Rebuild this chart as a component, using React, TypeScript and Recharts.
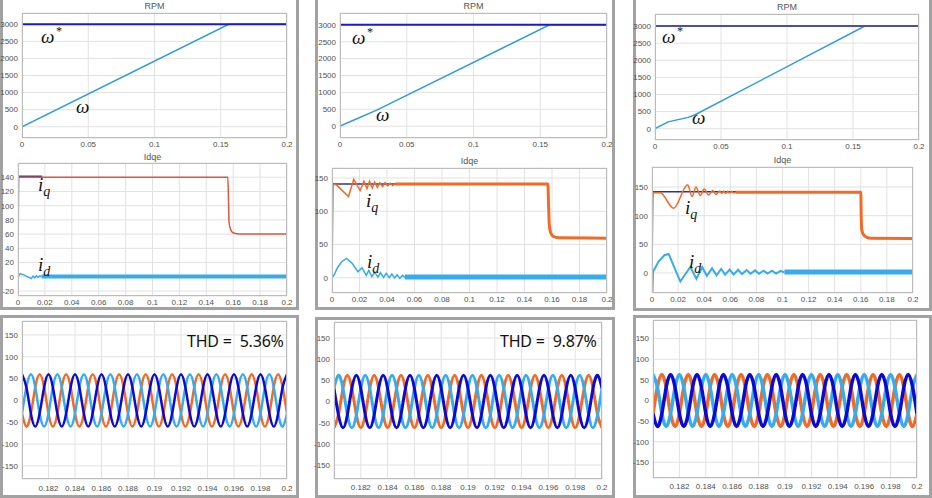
import React from 'react';
import { LineChart, Line, XAxis, YAxis, CartesianGrid } from 'recharts';

// ---------- speed (RPM) ----------
const rpmRefT = [0, 0.2];
const rpmRefV = [3000, 3000];
const rpm1T = [0, 0.156, 0.2];
const rpm1V = [0, 3000, 3000];
const rpm2T = [0, 0.01, 0.0275, 0.157, 0.2];
const rpm2V = [0, 175, 475, 3000, 3000];
const rpm3T = [0, 0.01, 0.025, 0.03, 0.159, 0.2];
const rpm3V = [0, 200, 330, 400, 3000, 3000];

// ---------- dq currents ----------
const iqRef1T = [0, 0.018];
const iqRef1V = [141, 141];
const iq1T = [0, 0.0006, 0.156, 0.1566, 0.1569, 0.158, 0.1598, 0.165, 0.2];
const iq1V = [0, 140, 140, 100, 77, 67, 62, 60, 60];
const id1T = [0, 0.0017, 0.005, 0.0099, 0.0112, 0.0125, 0.0138, 0.015, 0.0163, 0.0175];
const id1V = [0, 4.5, 2, -2.5, 1, -1.5, 1.5, -1, 1.5, 0];
const id1BandT = [0.0175, 0.2];
const id1BandV = [0.5, 0.5];

const iqRef2T = [0, 0.156];
const iqRef2V = [141, 141];
const iq2T = [0, 0.0008, 0.003, 0.012, 0.0158, 0.0205, 0.0232, 0.0254, 0.0273, 0.0293, 0.031, 0.033, 0.0348, 0.0368, 0.0386, 0.0405, 0.0423, 0.0442, 0.046];
const iq2V = [0, 140, 140, 122, 148, 131, 145, 134, 145, 135, 144, 136, 143, 137, 143, 138, 142, 138.5, 141];
const iq2BandT = [0.046, 0.157, 0.1575, 0.158, 0.159, 0.161, 0.165, 0.2];
const iq2BandV = [141, 141, 110, 80, 68, 62, 60, 59.5];
const id2T = [0, 0.0015, 0.004, 0.007, 0.0105, 0.0145, 0.0189, 0.0218, 0.0249, 0.0268, 0.029, 0.031, 0.0334, 0.0353, 0.0375, 0.0394, 0.0416, 0.0435, 0.0455, 0.0474, 0.0493, 0.0513, 0.053];
const id2V = [0, 4, 15, 24, 29, 22, 9, 15, 3.5, 11, 1.5, 8.5, 1, 7.5, 0.5, 6.5, 0, 5.5, -0.5, 4.5, -1, 3.5, 0.5];
const id2BandT = [0.053, 0.2];
const id2BandV = [1, 1];

const iqRef3T = [0, 0.16];
const iqRef3V = [142, 142];
const iq3T = [0, 0.001, 0.0064, 0.0166, 0.0273, 0.0307, 0.0337, 0.037, 0.04, 0.0434, 0.0465, 0.049, 0.052, 0.0535, 0.055, 0.0565, 0.058, 0.0595, 0.061, 0.0625, 0.064];
const iq3V = [0, 140.5, 140, 113, 154, 133.5, 150, 135, 146.5, 136, 144, 137, 143, 139, 143, 139, 142.5, 139.5, 142.5, 140, 141];
const iq3BandT = [0.064, 0.16, 0.1603, 0.1607, 0.162, 0.1645, 0.168, 0.2];
const iq3BandV = [141, 141, 100, 76, 67, 62, 60.5, 60];
const id3T = [0, 0.0003, 0.0008, 0.005, 0.0095, 0.0128, 0.0217, 0.0294, 0.034, 0.0385, 0.042, 0.046, 0.0495, 0.053, 0.056, 0.0595, 0.0625, 0.066, 0.069, 0.0725, 0.0755, 0.079, 0.082, 0.0855, 0.0885, 0.092, 0.095, 0.0985, 0.1015];
const id3V = [0, -35, 2, 20, 31, 33, -15, 10.5, -10, 10, -5, 8, -4, 7, -3, 6, -2.5, 5.5, -2, 5, -1.5, 4.5, -1.5, 4, -1, 4, -1, 3.5, 1];
const id3BandT = [0.1015, 0.2];
const id3BandV = [1.5, 1.5];

// ---------- phase currents, 0.18 .. 0.2 ----------
const phaseT = [
  0.18, 0.18033, 0.18067, 0.181, 0.18133, 0.18167,
  0.182, 0.18233, 0.18267, 0.183, 0.18333, 0.18367,
  0.184, 0.18433, 0.18467, 0.185, 0.18533, 0.18567,
  0.186, 0.18633, 0.18667, 0.187, 0.18733, 0.18767,
  0.188, 0.18833, 0.18867, 0.189, 0.18933, 0.18967,
  0.19, 0.19033, 0.19067, 0.191, 0.19133, 0.19167,
  0.192, 0.19233, 0.19267, 0.193, 0.19333, 0.19367,
  0.194, 0.19433, 0.19467, 0.195, 0.19533, 0.19567,
  0.196, 0.19633, 0.19667, 0.197, 0.19733, 0.19767,
  0.198, 0.19833, 0.19867, 0.199, 0.19933, 0.19967,
  0.2,
];

const ia1 = [
  60, 30, -30, -60, -30, 30, 60, 30, -30, -60, -30, 30,
  60, 30, -30, -60, -30, 30, 60, 30, -30, -60, -30, 30,
  60, 30, -30, -60, -30, 30, 60, 30, -30, -60, -30, 30,
  60, 30, -30, -60, -30, 30, 60, 30, -30, -60, -30, 30,
  60, 30, -30, -60, -30, 30, 60, 30, -30, -60, -30, 30,
  60,
];
const ib1 = [
  -30, 30, 60, 30, -30, -60, -30, 30, 60, 30, -30, -60,
  -30, 30, 60, 30, -30, -60, -30, 30, 60, 30, -30, -60,
  -30, 30, 60, 30, -30, -60, -30, 30, 60, 30, -30, -60,
  -30, 30, 60, 30, -30, -60, -30, 30, 60, 30, -30, -60,
  -30, 30, 60, 30, -30, -60, -30, 30, 60, 30, -30, -60,
  -30,
];
const ic1 = [
  -30, -60, -30, 30, 60, 30, -30, -60, -30, 30, 60, 30,
  -30, -60, -30, 30, 60, 30, -30, -60, -30, 30, 60, 30,
  -30, -60, -30, 30, 60, 30, -30, -60, -30, 30, 60, 30,
  -30, -60, -30, 30, 60, 30, -30, -60, -30, 30, 60, 30,
  -30, -60, -30, 30, 60, 30, -30, -60, -30, 30, 60, 30,
  -30,
];

const ia2 = [
  31, -31, -62, -31, 31, 62, 31, -31, -62, -31, 31, 62,
  31, -31, -62, -31, 31, 62, 31, -31, -62, -31, 31, 62,
  31, -31, -62, -31, 31, 62, 31, -31, -62, -31, 31, 62,
  31, -31, -62, -31, 31, 62, 31, -31, -62, -31, 31, 62,
  31, -31, -62, -31, 31, 62, 31, -31, -62, -31, 31, 62,
  31,
];
const ib2 = [
  31, 62, 31, -31, -62, -31, 31, 62, 31, -31, -62, -31,
  31, 62, 31, -31, -62, -31, 31, 62, 31, -31, -62, -31,
  31, 62, 31, -31, -62, -31, 31, 62, 31, -31, -62, -31,
  31, 62, 31, -31, -62, -31, 31, 62, 31, -31, -62, -31,
  31, 62, 31, -31, -62, -31, 31, 62, 31, -31, -62, -31,
  31,
];
const ic2 = [
  -62, -31, 31, 62, 31, -31, -62, -31, 31, 62, 31, -31,
  -62, -31, 31, 62, 31, -31, -62, -31, 31, 62, 31, -31,
  -62, -31, 31, 62, 31, -31, -62, -31, 31, 62, 31, -31,
  -62, -31, 31, 62, 31, -31, -62, -31, 31, 62, 31, -31,
  -62, -31, 31, 62, 31, -31, -62, -31, 31, 62, 31, -31,
  -62,
];

const ia3 = [
  -32, -63, -32, 32, 63, 32, -32, -63, -32, 32, 63, 32,
  -32, -63, -32, 32, 63, 32, -32, -63, -32, 32, 63, 32,
  -32, -63, -32, 32, 63, 32, -32, -63, -32, 32, 63, 32,
  -32, -63, -32, 32, 63, 32, -32, -63, -32, 32, 63, 32,
  -32, -63, -32, 32, 63, 32, -32, -63, -32, 32, 63, 32,
  -32,
];
const ib3 = [
  63, 32, -32, -63, -32, 32, 63, 32, -32, -63, -32, 32,
  63, 32, -32, -63, -32, 32, 63, 32, -32, -63, -32, 32,
  63, 32, -32, -63, -32, 32, 63, 32, -32, -63, -32, 32,
  63, 32, -32, -63, -32, 32, 63, 32, -32, -63, -32, 32,
  63, 32, -32, -63, -32, 32, 63, 32, -32, -63, -32, 32,
  63,
];
const ic3 = [
  -32, 32, 63, 32, -32, -63, -32, 32, 63, 32, -32, -63,
  -32, 32, 63, 32, -32, -63, -32, 32, 63, 32, -32, -63,
  -32, 32, 63, 32, -32, -63, -32, 32, 63, 32, -32, -63,
  -32, 32, 63, 32, -32, -63, -32, 32, 63, 32, -32, -63,
  -32, 32, 63, 32, -32, -63, -32, 32, 63, 32, -32, -63,
  -32,
];

// ---------- ticks ----------
const rpmXTicks = [0, 0.05, 0.1, 0.15, 0.2];
const rpmYTicks = [0, 500, 1000, 1500, 2000, 2500, 3000];
const idqXTicks = [0, 0.02, 0.04, 0.06, 0.08, 0.1, 0.12, 0.14, 0.16, 0.18, 0.2];
const idq1YTicks = [-20, 0, 20, 40, 60, 80, 100, 120, 140];
const idqYTicks = [0, 50, 100, 150];
const phaseXTicks = [0.182, 0.184, 0.186, 0.188, 0.19, 0.192, 0.194, 0.196, 0.198, 0.2];
const phaseYTicks = [-150, -100, -50, 0, 50, 100, 150];

const DARK = '#0a0ad2';
const ORANGE = '#f26a24';
const LIGHT = '#36acee';
const WREF = '#1a1ad6';
const WMEAS = '#2f9ce0';
const IQREF = '#303096';

type Curve = 'linear' | 'monotone' | 'natural';
interface Series {
  t: number[];
  v: number[];
  color: string;
  width: number;
  curve?: Curve;
}

interface PanelProps {
  x0: number;
  y0: number;
  x1: number;
  y1: number;
  xDomain: [number, number];
  yDomain: [number, number];
  xTicks: number[];
  yTicks: number[];
  series: Series[];
  title?: string;
  titleTop?: number;
  gap?: number;
}

const toRows = (t: number[], v: number[]) => t.map((x, i) => ({ t: x, v: v[i] }));

const tickStyle = { fontSize: 8, fill: '#505050', fontFamily: 'Liberation Sans, Arial, sans-serif' };

const Panel = ({ x0, y0, x1, y1, xDomain, yDomain, xTicks, yTicks, series, title, titleTop, gap = 3 }: PanelProps) => {
  const W = 40;
  const R = 12;
  const T = 2;
  const H = 18;
  return (
    <>
      {title && (
        <div
          style={{
            position: 'absolute',
            left: x0,
            width: x1 - x0,
            top: titleTop,
            textAlign: 'center',
            fontSize: 9,
            lineHeight: '10px',
            color: '#555',
            fontFamily: 'Liberation Sans, Arial, sans-serif',
          }}
        >
          {title}
        </div>
      )}
      <div style={{ position: 'absolute', left: x0 - W, top: y0 - T }}>
        <LineChart width={x1 - x0 + W + R} height={y1 - y0 + T + H} margin={{ top: T, right: R, bottom: 0, left: 0 }}>
          <CartesianGrid stroke="#e2e2e2" />
          <XAxis
            type="number"
            dataKey="t"
            domain={xDomain}
            ticks={xTicks}
            interval={0}
            allowDataOverflow
            height={H}
            axisLine={false}
            tickLine={false}
            tickSize={0}
            tickMargin={gap}
            tick={tickStyle}
          />
          <YAxis
            type="number"
            dataKey="v"
            domain={yDomain}
            ticks={yTicks}
            interval={0}
            allowDataOverflow
            width={W}
            axisLine={false}
            tickLine={false}
            tickSize={0}
            tickMargin={4}
            tick={tickStyle}
          />
          {series.map((s, i) => (
            <Line
              key={i}
              data={toRows(s.t, s.v)}
              dataKey="v"
              type={s.curve ?? 'linear'}
              stroke={s.color}
              strokeWidth={s.width}
              dot={false}
              activeDot={false}
              isAnimationActive={false}
            />
          ))}
        </LineChart>
        <div
          style={{
            position: 'absolute',
            left: W,
            top: T,
            width: x1 - x0,
            height: y1 - y0,
            border: '1px solid #bcbcbc',
            boxSizing: 'border-box',
            pointerEvents: 'none',
          }}
        />
      </div>
    </>
  );
};

const Frame = ({ left, top, right, bottom }: { left: number; top: number; right: number; bottom: number }) => (
  <div
    style={{
      position: 'absolute',
      left,
      top,
      width: right - left,
      height: bottom - top,
      border: '3px solid #a2a2a2',
      boxSizing: 'border-box',
      background: '#fff',
    }}
  />
);

const mathFont = { fontFamily: 'Liberation Serif, serif', fontStyle: 'italic' as const, fontSize: 19, lineHeight: '19px', color: '#111' };

const Omega = ({ x, y, star }: { x: number; y: number; star?: boolean }) => (
  <div style={{ position: 'absolute', left: x, top: y, ...mathFont }}>
    ω{star && <span style={{ fontSize: 12, position: 'relative', top: -8, marginLeft: 1 }}>*</span>}
  </div>
);

const Sub = ({ x, y, s }: { x: number; y: number; s: string }) => (
  <div style={{ position: 'absolute', left: x, top: y, ...mathFont }}>
    i<span style={{ fontSize: 14, position: 'relative', top: 5 }}>{s}</span>
  </div>
);

const Thd = ({ x, text }: { x: number; text: string }) => (
  <div
    style={{
      position: 'absolute',
      left: x,
      top: 333,
      fontSize: 16,
      lineHeight: '17px',
      letterSpacing: -0.2,
      whiteSpace: 'pre',
      fontFamily: 'Noto Sans, Open Sans, sans-serif',
      color: '#111',
    }}
  >
    {text}
  </div>
);

const phaseSeries = (a: number[], b: number[], c: number[], w: number): Series[] => [
  { t: phaseT, v: c, color: ORANGE, width: w, curve: 'natural' },
  { t: phaseT, v: b, color: LIGHT, width: w, curve: 'natural' },
  { t: phaseT, v: a, color: DARK, width: w, curve: 'natural' },
];

export default function App() {
  return (
    <div style={{ position: 'absolute', left: 0, top: 0, width: 932, height: 498, background: '#fff', overflow: 'hidden' }}>
      <Frame left={0} top={-3} right={299} bottom={310} />
      <Frame left={0} top={315} right={299} bottom={498} />
      <Frame left={315} top={-3} right={615} bottom={310} />
      <Frame left={315} top={317} right={615} bottom={498} />
      <Frame left={633} top={-3} right={932} bottom={311} />
      <Frame left={633} top={315} right={932} bottom={498} />

      {/* column 1 */}
      <Panel
        x0={22} y0={13} x1={287} y1={138}
        xDomain={[0, 0.2]} yDomain={[-330, 3330]} xTicks={rpmXTicks} yTicks={rpmYTicks}
        title="RPM" titleTop={1}
        series={[
          { t: rpm1T, v: rpm1V, color: WMEAS, width: 1.5 },
          { t: rpmRefT, v: rpmRefV, color: WREF, width: 2 },
        ]}
      />
      <Panel
        x0={18} y0={163} x1={287} y1={296}
        xDomain={[0, 0.2]} yDomain={[-27, 160]} xTicks={idqXTicks} yTicks={idq1YTicks}
        title="Idqe" titleTop={152}
        series={[
          { t: id1BandT, v: id1BandV, color: LIGHT, width: 4 },
          { t: id1T, v: id1V, color: LIGHT, width: 1.5 },
          { t: iqRef1T, v: iqRef1V, color: IQREF, width: 2 },
          { t: iq1T, v: iq1V, color: '#e2553a', width: 1.5, curve: 'monotone' },
        ]}
      />
      <Panel
        x0={22} y0={321} x1={287} y1={479}
        xDomain={[0.18, 0.2]} yDomain={[-180, 182]} xTicks={phaseXTicks} yTicks={phaseYTicks} gap={6}
        series={phaseSeries(ia1, ib1, ic1, 2.5)}
      />
      <Thd x={187} text="THD =  5.36%" />

      {/* column 2 */}
      <Panel
        x0={340} y0={13} x1={607} y1={138}
        xDomain={[0, 0.2]} yDomain={[-350, 3350]} xTicks={rpmXTicks} yTicks={rpmYTicks}
        title="RPM" titleTop={1}
        series={[
          { t: rpm2T, v: rpm2V, color: WMEAS, width: 1.5 },
          { t: rpmRefT, v: rpmRefV, color: WREF, width: 2 },
        ]}
      />
      <Panel
        x0={332} y0={168} x1={607} y1={293}
        xDomain={[0, 0.2]} yDomain={[-23, 165]} xTicks={idqXTicks} yTicks={idqYTicks}
        title="Idqe" titleTop={156}
        series={[
          { t: id2BandT, v: id2BandV, color: LIGHT, width: 5 },
          { t: id2T, v: id2V, color: LIGHT, width: 1.5 },
          { t: iqRef2T, v: iqRef2V, color: IQREF, width: 1.5 },
          { t: iq2T, v: iq2V, color: ORANGE, width: 1.5 },
          { t: iq2BandT, v: iq2BandV, color: ORANGE, width: 3, curve: 'monotone' },
        ]}
      />
      <Panel
        x0={334} y0={322} x1={602} y1={479}
        xDomain={[0.18, 0.2]} yDomain={[-183, 188]} xTicks={phaseXTicks} yTicks={phaseYTicks} gap={5}
        series={phaseSeries(ia2, ib2, ic2, 3)}
      />
      <Thd x={500} text="THD =  9.87%" />

      {/* column 3 */}
      <Panel
        x0={655} y0={14} x1={919} y1={140}
        xDomain={[0, 0.2]} yDomain={[-330, 3350]} xTicks={rpmXTicks} yTicks={rpmYTicks}
        title="RPM" titleTop={2}
        series={[
          { t: rpm3T, v: rpm3V, color: WMEAS, width: 1.5 },
          { t: rpmRefT, v: rpmRefV, color: '#4f4f9e', width: 2 },
        ]}
      />
      <Panel
        x0={652} y0={167} x1={913} y1={293}
        xDomain={[0, 0.2]} yDomain={[-35, 185]} xTicks={idqXTicks} yTicks={idqYTicks}
        title="Idqe" titleTop={155}
        series={[
          { t: id3BandT, v: id3BandV, color: LIGHT, width: 5 },
          { t: id3T, v: id3V, color: LIGHT, width: 2 },
          { t: iqRef3T, v: iqRef3V, color: IQREF, width: 1.5 },
          { t: iq3T, v: iq3V, color: ORANGE, width: 1.5, curve: 'monotone' },
          { t: iq3BandT, v: iq3BandV, color: ORANGE, width: 3, curve: 'monotone' },
        ]}
      />
      <Panel
        x0={653} y0={320} x1={917} y1={478}
        xDomain={[0.18, 0.2]} yDomain={[-188, 195]} xTicks={phaseXTicks} yTicks={phaseYTicks} gap={5}
        series={phaseSeries(ia3, ib3, ic3, 3.5)}
      />

      {/* annotations */}
      <Omega x={41} y={27} star />
      <Omega x={76} y={97} />
      <Omega x={352} y={28} star />
      <Omega x={376} y={105} />
      <Omega x={662} y={27} star />
      <Omega x={692} y={108} />
      <Sub x={38} y={175} s="q" />
      <Sub x={38} y={255} s="d" />
      <Sub x={366} y={191} s="q" />
      <Sub x={367} y={252} s="d" />
      <Sub x={685} y={198} s="q" />
      <Sub x={689} y={252} s="d" />
    </div>
  );
}
